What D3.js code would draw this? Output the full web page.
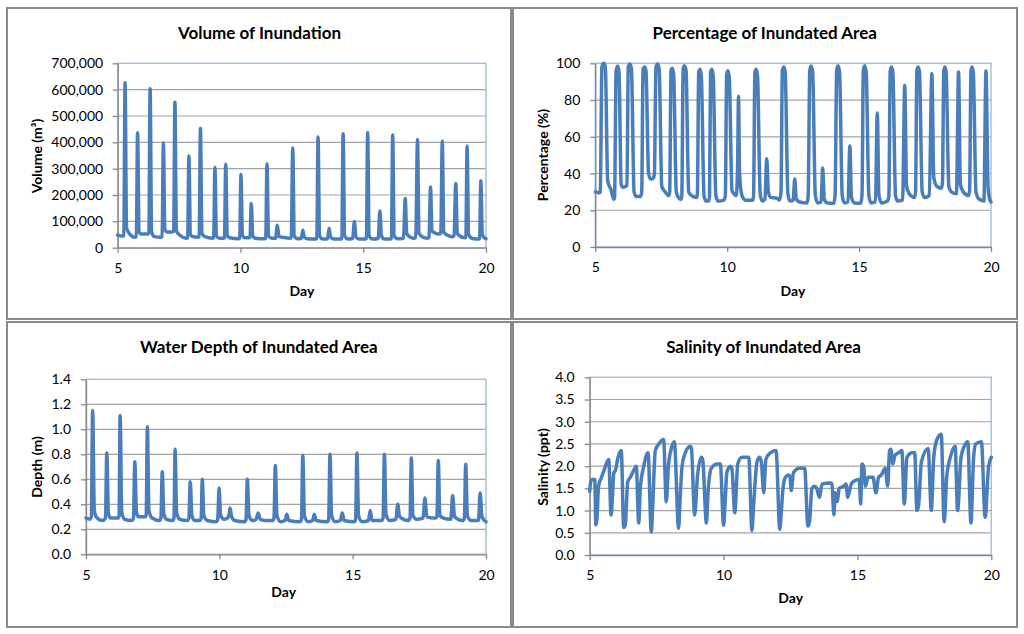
<!DOCTYPE html>
<html>
<head>
<meta charset="utf-8">
<title>Inundation</title>
<script src="https://d3js.org/d3.v7.min.js"></script>
<style>
  body { margin: 0; background: #fff; }
  text { font-family: Lato, "Open Sans", sans-serif; fill: #000; }
</style>
</head>
<body>
<div id="chart"></div>
<script>

const dayTicks = [5, 10, 15, 20];
const volumeTicks = [0, 100000, 200000, 300000, 400000, 500000, 600000, 700000];
const percentTicks = [0, 20, 40, 60, 80, 100];
const depthTicks = [0, 0.2, 0.4, 0.6, 0.8, 1.0, 1.2, 1.4];
const salinityTicks = [0, 0.5, 1.0, 1.5, 2.0, 2.5, 3.0, 3.5, 4.0];

// [day, volume m3]
const volume = [
  [5.00, 48000], [5.20, 44000], [5.25, 46000], [5.30, 626000], [5.36, 75000], [5.43, 60000],
  [5.68, 40000], [5.76, 42000], [5.81, 436000], [5.87, 60000], [5.95, 52000], [6.20, 52000],
  [6.27, 55000], [6.32, 603000], [6.38, 60000], [6.50, 42000], [6.75, 40000], [6.81, 42000],
  [6.86, 397000], [6.92, 70000], [7.00, 60000], [7.23, 60000], [7.28, 63000], [7.33, 552000],
  [7.39, 65000], [7.52, 48000], [7.80, 36000], [7.85, 38000], [7.90, 348000], [7.96, 50000],
  [8.06, 42000], [8.27, 40000], [8.32, 42000], [8.37, 453000], [8.43, 55000], [8.55, 42000],
  [8.86, 36000], [8.91, 38000], [8.96, 304000], [9.02, 45000], [9.14, 36000], [9.30, 36000],
  [9.35, 38000], [9.40, 317000], [9.46, 45000], [9.57, 38000], [9.92, 34000], [9.97, 36000],
  [10.02, 278000], [10.08, 45000], [10.20, 38000], [10.34, 38000], [10.39, 40000], [10.44, 168000],
  [10.50, 45000], [10.60, 36000], [10.98, 34000], [11.03, 36000], [11.08, 318000], [11.14, 45000],
  [11.27, 36000], [11.43, 36000], [11.50, 85000], [11.57, 42000], [11.70, 40000], [12.00, 36000],
  [12.07, 38000], [12.13, 378000], [12.19, 45000], [12.33, 34000], [12.48, 36000], [12.54, 66000],
  [12.60, 40000], [12.72, 34000], [13.05, 33000], [13.11, 35000], [13.16, 420000], [13.22, 45000],
  [13.36, 33000], [13.55, 34000], [13.61, 74000], [13.67, 40000], [13.80, 33000], [14.07, 33000],
  [14.13, 35000], [14.18, 433000], [14.24, 45000], [14.38, 33000], [14.57, 35000], [14.64, 99000],
  [14.70, 42000], [14.82, 33000], [15.08, 33000], [15.13, 35000], [15.18, 437000], [15.24, 45000],
  [15.38, 33000], [15.61, 35000], [15.68, 139000], [15.74, 45000], [15.86, 33000], [16.10, 33000],
  [16.15, 35000], [16.20, 428000], [16.26, 45000], [16.40, 34000], [16.64, 36000], [16.71, 187000],
  [16.77, 55000], [16.88, 42000], [17.06, 36000], [17.14, 38000], [17.21, 411000], [17.27, 55000],
  [17.40, 42000], [17.62, 36000], [17.68, 40000], [17.74, 230000], [17.80, 65000], [17.90, 57000],
  [18.08, 52000], [18.16, 55000], [18.22, 405000], [18.28, 60000], [18.42, 48000], [18.62, 42000],
  [18.70, 45000], [18.77, 244000], [18.83, 55000], [18.93, 45000], [19.12, 38000], [19.18, 40000],
  [19.23, 386000], [19.29, 50000], [19.45, 35000], [19.70, 33000], [19.74, 36000], [19.79, 254000],
  [19.85, 50000], [19.95, 36000], [20.00, 34000]
];

// [day, % of area inundated]
const percentage = [
  [5.00, 30], [5.14, 29.5], [5.19, 30], [5.25, 98], [5.32, 100], [5.38, 98], [5.47, 36], [5.60, 31],
  [5.70, 26], [5.73, 27], [5.79, 96], [5.85, 98.5], [5.90, 95], [5.98, 34], [6.05, 32.5], [6.15, 33],
  [6.20, 33.5], [6.25, 98], [6.31, 99.6], [6.37, 97], [6.47, 30], [6.55, 27.5], [6.72, 27.5], [6.76, 30],
  [6.81, 97], [6.87, 98], [6.92, 96], [7.02, 40], [7.10, 37], [7.20, 37.5], [7.24, 40], [7.30, 98],
  [7.36, 99.6], [7.42, 97], [7.52, 33], [7.65, 30], [7.78, 28], [7.82, 30], [7.87, 96], [7.92, 97.3],
  [7.97, 94], [8.07, 30], [8.15, 27], [8.25, 26], [8.28, 28], [8.33, 97], [8.38, 98.7], [8.44, 96],
  [8.54, 30], [8.65, 28], [8.84, 27], [8.87, 29], [8.92, 95], [8.97, 96.7], [9.02, 93], [9.12, 28],
  [9.20, 25], [9.30, 25], [9.33, 28], [9.37, 95], [9.42, 96.7], [9.47, 93], [9.57, 28], [9.65, 25],
  [9.88, 25.5], [9.93, 28], [9.98, 94], [10.03, 96], [10.08, 92], [10.18, 31], [10.25, 29], [10.34, 28],
  [10.39, 40], [10.43, 82], [10.47, 40], [10.56, 28], [10.70, 25.5], [10.97, 25.5], [11.00, 28], [11.05, 95],
  [11.10, 96.7], [11.15, 93], [11.25, 29], [11.33, 25], [11.43, 26], [11.50, 48], [11.56, 30], [11.65, 27],
  [11.90, 26.5], [11.98, 25.5], [12.04, 30], [12.09, 96], [12.15, 98], [12.20, 95], [12.30, 29], [12.38, 25],
  [12.50, 25.5], [12.56, 37], [12.62, 26], [12.75, 24.5], [13.03, 24], [13.07, 28], [13.13, 96], [13.18, 98.5],
  [13.24, 95], [13.34, 28], [13.43, 24], [13.56, 24.5], [13.62, 43], [13.68, 26], [13.80, 24], [14.04, 23.8],
  [14.09, 28], [14.15, 96], [14.20, 98.7], [14.26, 95], [14.36, 28], [14.44, 24], [14.58, 24.5], [14.65, 55],
  [14.71, 27], [14.82, 24], [15.06, 23.8], [15.11, 28], [15.16, 96], [15.21, 98.7], [15.27, 95], [15.37, 28],
  [15.45, 24], [15.62, 24.5], [15.69, 73], [15.75, 28], [15.85, 24], [16.08, 25], [16.13, 28], [16.18, 96],
  [16.23, 98], [16.28, 95], [16.38, 28], [16.46, 25], [16.65, 25.5], [16.73, 88], [16.80, 33], [16.90, 29],
  [17.10, 27], [17.14, 30], [17.19, 96], [17.24, 98], [17.29, 95], [17.39, 30], [17.48, 27], [17.66, 28],
  [17.76, 94.5], [17.83, 38], [17.95, 33], [18.12, 32], [18.16, 35], [18.21, 96], [18.25, 98], [18.30, 95],
  [18.40, 33], [18.50, 30], [18.69, 29], [18.77, 95.3], [18.84, 34], [18.95, 30], [19.15, 28], [19.19, 31],
  [19.24, 96], [19.28, 98], [19.33, 95], [19.43, 30], [19.55, 26], [19.73, 25], [19.81, 95.8], [19.89, 32],
  [19.95, 26], [20.00, 24.5]
];

// [day, depth m]
const depth = [
  [5.00, 0.29], [5.14, 0.28], [5.20, 0.30], [5.25, 1.15], [5.31, 0.36], [5.38, 0.30], [5.62, 0.27],
  [5.73, 0.29], [5.78, 0.81], [5.84, 0.33], [5.92, 0.29], [6.20, 0.29], [6.24, 0.31], [6.28, 1.11],
  [6.34, 0.34], [6.45, 0.28], [6.72, 0.27], [6.78, 0.29], [6.83, 0.74], [6.89, 0.34], [6.97, 0.30],
  [7.22, 0.30], [7.26, 0.32], [7.30, 1.02], [7.36, 0.35], [7.48, 0.29], [7.76, 0.27], [7.81, 0.29],
  [7.86, 0.66], [7.92, 0.32], [8.02, 0.28], [8.25, 0.27], [8.30, 0.29], [8.34, 0.84], [8.40, 0.33],
  [8.52, 0.28], [8.80, 0.27], [8.86, 0.29], [8.91, 0.58], [8.97, 0.31], [9.08, 0.27], [9.27, 0.27],
  [9.32, 0.29], [9.36, 0.60], [9.42, 0.31], [9.55, 0.27], [9.88, 0.26], [9.94, 0.28], [9.99, 0.53],
  [10.05, 0.31], [10.18, 0.28], [10.30, 0.29], [10.36, 0.31], [10.40, 0.37], [10.46, 0.30], [10.58, 0.27],
  [10.95, 0.26], [11.00, 0.28], [11.05, 0.60], [11.11, 0.31], [11.25, 0.27], [11.38, 0.28], [11.46, 0.33],
  [11.53, 0.28], [11.70, 0.27], [12.00, 0.27], [12.05, 0.29], [12.10, 0.71], [12.16, 0.31], [12.30, 0.26],
  [12.46, 0.27], [12.53, 0.32], [12.60, 0.27], [13.03, 0.26], [13.08, 0.28], [13.13, 0.79], [13.19, 0.31],
  [13.33, 0.26], [13.50, 0.27], [13.56, 0.32], [13.63, 0.27], [14.05, 0.26], [14.10, 0.28], [14.15, 0.80],
  [14.21, 0.31], [14.35, 0.26], [14.54, 0.27], [14.61, 0.33], [14.68, 0.27], [15.06, 0.26], [15.11, 0.28],
  [15.16, 0.81], [15.22, 0.31], [15.36, 0.26], [15.59, 0.27], [15.66, 0.35], [15.73, 0.27], [16.08, 0.27],
  [16.14, 0.29], [16.19, 0.80], [16.25, 0.32], [16.38, 0.27], [16.62, 0.28], [16.69, 0.40], [16.76, 0.30],
  [17.08, 0.27], [17.15, 0.29], [17.20, 0.77], [17.26, 0.31], [17.40, 0.28], [17.64, 0.29], [17.71, 0.45],
  [17.78, 0.30], [18.08, 0.29], [18.16, 0.30], [18.21, 0.75], [18.27, 0.31], [18.40, 0.29], [18.68, 0.28],
  [18.75, 0.47], [18.82, 0.30], [19.12, 0.27], [19.19, 0.29], [19.24, 0.72], [19.30, 0.31], [19.45, 0.27],
  [19.72, 0.27], [19.78, 0.49], [19.85, 0.30], [20.00, 0.26]
];

// [day, salinity ppt]
const salinity = [
  [5.00, 1.43], [5.04, 1.65], [5.10, 1.70], [5.19, 1.70], [5.23, 0.68], [5.27, 0.80], [5.33, 1.55],
  [5.44, 1.75], [5.56, 1.95], [5.65, 2.10], [5.71, 2.15], [5.80, 0.90], [5.85, 1.30], [5.90, 1.85],
  [5.96, 1.90], [6.06, 2.20], [6.18, 2.35], [6.27, 0.62], [6.33, 0.68], [6.42, 1.65], [6.52, 1.75],
  [6.68, 1.95], [6.74, 2.00], [6.83, 0.72], [6.89, 1.50], [7.02, 2.00], [7.18, 2.30], [7.30, 0.52],
  [7.34, 0.90], [7.45, 2.35], [7.58, 2.50], [7.76, 2.60], [7.86, 1.20], [7.94, 2.00], [8.05, 2.40],
  [8.16, 2.55], [8.32, 0.60], [8.38, 1.30], [8.45, 2.00], [8.57, 2.30], [8.76, 2.45], [8.80, 2.40],
  [8.92, 0.90], [9.03, 1.80], [9.17, 2.20], [9.22, 2.15], [9.36, 0.72], [9.42, 1.40], [9.54, 1.95],
  [9.76, 2.05], [9.88, 2.05], [10.00, 0.67], [10.06, 1.20], [10.12, 1.85], [10.25, 2.00], [10.31, 1.95],
  [10.42, 0.95], [10.53, 2.05], [10.69, 2.20], [10.94, 2.20], [11.06, 0.55], [11.12, 1.10], [11.25, 2.10],
  [11.34, 2.20], [11.41, 2.10], [11.50, 1.40], [11.58, 2.15], [11.75, 2.30], [11.96, 2.35], [12.10, 0.58],
  [12.16, 1.00], [12.22, 1.50], [12.31, 1.75], [12.43, 1.80], [12.48, 1.75], [12.53, 1.45], [12.61, 1.85],
  [12.83, 1.95], [13.03, 1.95], [13.15, 0.65], [13.21, 0.75], [13.30, 1.50], [13.40, 1.55], [13.48, 1.50],
  [13.58, 1.30], [13.68, 1.60], [13.99, 1.62], [14.05, 1.60], [14.12, 0.90], [14.17, 1.40], [14.24, 1.20],
  [14.32, 1.50], [14.49, 1.55], [14.57, 1.60], [14.64, 1.30], [14.77, 1.60], [14.92, 1.68], [15.07, 1.70],
  [15.12, 1.15], [15.17, 2.05], [15.23, 2.00], [15.30, 1.55], [15.40, 1.75], [15.58, 1.75], [15.69, 1.40],
  [15.79, 1.75], [15.89, 1.80], [16.04, 1.95], [16.13, 1.55], [16.20, 2.35], [16.25, 2.38], [16.32, 2.05],
  [16.41, 2.25], [16.54, 2.30], [16.66, 2.35], [16.75, 1.15], [16.85, 2.20], [17.04, 2.30], [17.14, 2.30],
  [17.22, 1.00], [17.28, 1.10], [17.39, 2.10], [17.64, 2.40], [17.76, 1.00], [17.85, 2.20], [17.97, 2.60],
  [18.13, 2.72], [18.24, 0.75], [18.34, 1.80], [18.47, 2.20], [18.65, 2.45], [18.74, 1.00], [18.87, 2.20],
  [18.99, 2.45], [19.12, 2.55], [19.24, 0.72], [19.34, 2.20], [19.42, 2.50], [19.63, 2.55], [19.77, 0.85],
  [19.90, 2.00], [20.00, 2.20]
];

let svg = d3.select("#chart")
  .append("svg")
  .attr("width", 1024)
  .attr("height", 634);

let panels = [
  {data: volume, ticks: volumeTicks, fmt: d3.format(","), title: "Volume of Inundation", ylabel: "Volume (m\u00b3)",
   box: [7, 8, 511, 319], plot: [117.7, 63.3, 486, 247.7], titleXY: [259.5, 39], ylabXY: [42, 156], dayXY: [302, 296], pad: 9.5},
  {data: percentage, ticks: percentTicks, fmt: d3.format("d"), title: "Percentage of Inundated Area", ylabel: "Percentage (%)",
   box: [513, 8, 1017, 319], plot: [595.3, 63.3, 991, 247], titleXY: [764.7, 39], ylabXY: [548, 155], dayXY: [793, 296], pad: 10},
  {data: depth, ticks: depthTicks, fmt: d3.format(".1f"), title: "Water Depth of Inundated Area", ylabel: "Depth (m)",
   box: [7, 322, 511, 627], plot: [86, 379.3, 486, 554.3], titleXY: [258.8, 353], ylabXY: [42, 467], dayXY: [283.7, 597], pad: 10},
  {data: salinity, ticks: salinityTicks, fmt: d3.format(".1f"), title: "Salinity of Inundated Area", ylabel: "Salinity (ppt)",
   box: [513, 322, 1017, 627], plot: [589.7, 377.3, 991.3, 555], titleXY: [763.5, 353], ylabXY: [548, 467], dayXY: [790.7, 603], pad: 10}
];

panels.forEach(function(p) {
  let g = svg.append("g");
  let [l, t, r, b] = p.plot;

  g.append("rect")
    .attr("x", p.box[0]).attr("y", p.box[1])
    .attr("width", p.box[2] - p.box[0]).attr("height", p.box[3] - p.box[1])
    .attr("fill", "#fff").attr("stroke", "#8a8a8a").attr("stroke-width", 2);

  let x = d3.scaleLinear().domain([5, 20]).range([l, r]);
  let y = d3.scaleLinear()
    .domain([p.ticks[0], p.ticks[p.ticks.length - 1]])
    .range([b, t]);

  // gridlines
  g.selectAll(".grid")
    .data(p.ticks.slice(1, -1))
    .enter()
    .append("line")
    .attr("x1", l).attr("x2", r)
    .attr("y1", function(d) { return y(d); })
    .attr("y2", function(d) { return y(d); })
    .attr("stroke", "#a3a3a3")
    .attr("stroke-width", 1.2);

  // plot area outline (top/right show in light blue)
  g.append("rect")
    .attr("x", l).attr("y", t).attr("width", r - l).attr("height", b - t)
    .attr("fill", "none").attr("stroke", "#a7c0df").attr("stroke-width", 1.5);

  let yAxis = g.append("g")
    .attr("transform", "translate(" + l + ",0)")
    .call(d3.axisLeft(y).tickValues(p.ticks).tickFormat(p.fmt)
      .tickSize(5).tickSizeOuter(0).tickPadding(p.pad));

  let xAxis = g.append("g")
    .attr("transform", "translate(0," + b + ")")
    .call(d3.axisBottom(x).tickValues(dayTicks).tickFormat(d3.format("d"))
      .tickSize(5).tickSizeOuter(0).tickPadding(10.5));

  [yAxis, xAxis].forEach(function(a) {
    a.attr("font-size", 14).attr("font-family", "Lato, 'Open Sans', sans-serif");
    a.selectAll("path, line").attr("stroke", "#868686").attr("stroke-width", 1.3);
    a.selectAll("text").attr("fill", "#000");
  });

  let line = d3.line()
    .x(function(d) { return x(d[0]); })
    .y(function(d) { return y(d[1]); })
    .curve(d3.curveMonotoneX);

  g.append("path")
    .datum(p.data)
    .attr("d", line)
    .attr("fill", "none")
    .attr("stroke", "#4a7ebb")
    .attr("stroke-width", 3.5)
    .attr("stroke-linejoin", "round")
    .attr("stroke-linecap", "round");

  g.append("text")
    .attr("x", p.titleXY[0]).attr("y", p.titleXY[1])
    .attr("text-anchor", "middle")
    .attr("font-size", "17px").attr("font-weight", "bold")
    .text(p.title);

  g.append("text")
    .attr("transform", "translate(" + p.ylabXY[0] + "," + p.ylabXY[1] + ") rotate(-90)")
    .attr("text-anchor", "middle")
    .attr("font-size", "14px").attr("font-weight", "bold")
    .text(p.ylabel);

  g.append("text")
    .attr("x", p.dayXY[0]).attr("y", p.dayXY[1])
    .attr("text-anchor", "middle")
    .attr("font-size", "14px").attr("font-weight", "bold")
    .text("Day");
});

</script>
</body>
</html>
